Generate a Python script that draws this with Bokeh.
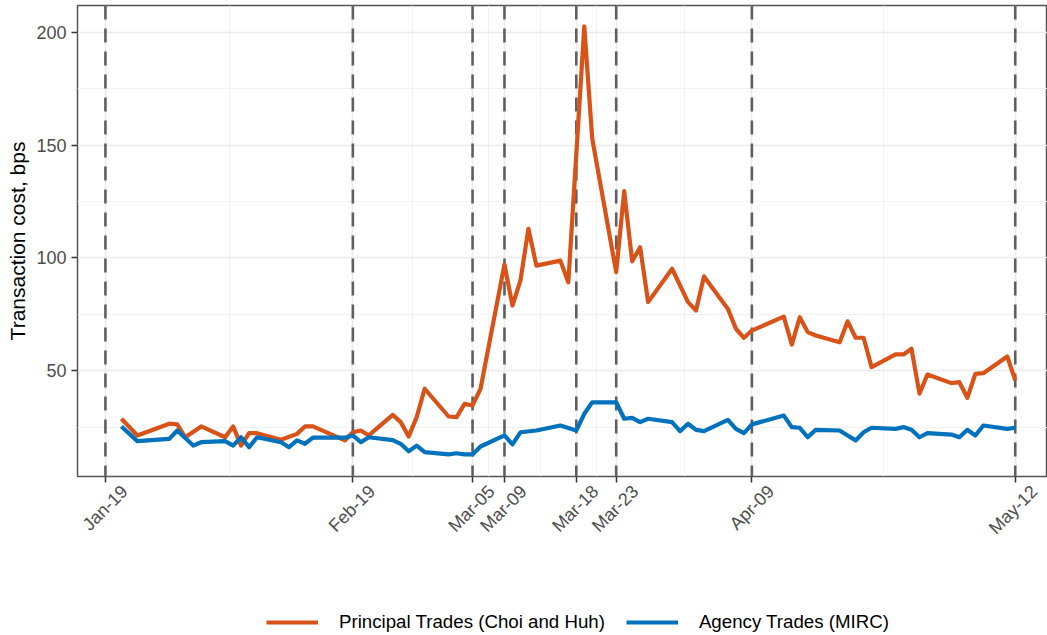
import math
import pandas as pd
from bokeh.plotting import figure
from bokeh.layouts import column
from bokeh.models import (Range1d, FixedTicker, DatetimeTickFormatter, Legend, LegendItem, Span,
                          DatetimeAxis)
from bokeh.embed import file_html
from bokeh.resources import INLINE

principal_dates = ["2020-01-21", "2020-01-23", "2020-01-27", "2020-01-28", "2020-01-29", "2020-01-31",
                   "2020-02-03", "2020-02-04", "2020-02-05", "2020-02-06", "2020-02-07", "2020-02-10",
                   "2020-02-12", "2020-02-13", "2020-02-14", "2020-02-18", "2020-02-19", "2020-02-20",
                   "2020-02-21", "2020-02-24", "2020-02-25", "2020-02-26", "2020-02-27", "2020-02-28",
                   "2020-03-02", "2020-03-03", "2020-03-04", "2020-03-05", "2020-03-06", "2020-03-09",
                   "2020-03-10", "2020-03-11", "2020-03-12", "2020-03-13", "2020-03-16", "2020-03-17",
                   "2020-03-19", "2020-03-20", "2020-03-23", "2020-03-24", "2020-03-25", "2020-03-26",
                   "2020-03-27", "2020-03-30", "2020-04-01", "2020-04-02", "2020-04-03", "2020-04-06",
                   "2020-04-07", "2020-04-08", "2020-04-09", "2020-04-13", "2020-04-14", "2020-04-15",
                   "2020-04-16", "2020-04-17", "2020-04-20", "2020-04-21", "2020-04-22", "2020-04-23",
                   "2020-04-24", "2020-04-27", "2020-04-28", "2020-04-29", "2020-04-30", "2020-05-01",
                   "2020-05-04", "2020-05-05", "2020-05-06", "2020-05-07", "2020-05-08", "2020-05-11",
                   "2020-05-12"]
principal_cost = [28.7, 21.3, 26.5, 26.2, 20.5, 25.3,
                  20.5, 25.3, 16.8, 22.3, 22.3, 19.4,
                  22.0, 25.3, 25.3, 19.1, 22.7, 23.5,
                  21.3, 30.4, 27.2, 20.8, 29.4, 42.0,
                  29.7, 29.4, 35.3, 34.6, 42.0, 97.1,
                  78.9, 90.0, 112.9, 96.6, 98.8, 89.2,
                  202.6, 152.8, 93.7, 129.6, 98.5, 104.7,
                  80.4, 95.2, 80.4, 76.7, 91.8, 77.4,
                  68.6, 64.6, 67.8, 74.0, 61.6, 73.7,
                  67.1, 65.6, 62.6, 71.9, 64.6, 64.6,
                  51.6, 57.2, 57.2, 59.7, 39.8, 48.3,
                  44.5, 44.9, 38.0, 48.6, 48.9, 56.3,
                  45.7]

agency_dates = ["2020-01-21", "2020-01-23", "2020-01-27", "2020-01-28", "2020-01-30", "2020-01-31",
                "2020-02-03", "2020-02-04", "2020-02-05", "2020-02-06", "2020-02-07", "2020-02-10",
                "2020-02-11", "2020-02-12", "2020-02-13", "2020-02-14", "2020-02-18", "2020-02-19",
                "2020-02-20", "2020-02-21", "2020-02-24", "2020-02-25", "2020-02-26", "2020-02-27",
                "2020-02-28", "2020-03-02", "2020-03-03", "2020-03-04", "2020-03-05", "2020-03-06",
                "2020-03-09", "2020-03-10", "2020-03-11", "2020-03-13", "2020-03-16", "2020-03-18",
                "2020-03-19", "2020-03-20", "2020-03-23", "2020-03-24", "2020-03-25", "2020-03-26",
                "2020-03-27", "2020-03-30", "2020-03-31", "2020-04-01", "2020-04-02", "2020-04-03",
                "2020-04-06", "2020-04-07", "2020-04-08", "2020-04-09", "2020-04-13", "2020-04-14",
                "2020-04-15", "2020-04-16", "2020-04-17", "2020-04-20", "2020-04-21", "2020-04-22",
                "2020-04-23", "2020-04-24", "2020-04-27", "2020-04-28", "2020-04-29", "2020-04-30",
                "2020-05-01", "2020-05-04", "2020-05-05", "2020-05-06", "2020-05-07", "2020-05-08",
                "2020-05-11", "2020-05-12"]
agency_cost = [25.3, 18.8, 19.8, 23.5, 16.8, 18.3,
               18.8, 16.8, 20.5, 16.1, 20.5, 18.3,
               16.1, 19.1, 17.6, 20.3, 20.3, 21.3,
               18.3, 20.5, 19.2, 17.6, 14.3, 16.8,
               13.9, 12.9, 13.4, 12.9, 12.9, 16.4,
               21.3, 17.3, 22.7, 23.5, 25.7, 23.5,
               30.9, 36.0, 36.0, 28.7, 29.1, 27.2,
               28.7, 27.2, 23.2, 26.5, 23.8, 23.2,
               28.2, 24.2, 22.3, 26.2, 30.1, 25.0,
               24.7, 20.5, 23.8, 23.5, 21.3, 19.1,
               22.7, 24.7, 24.2, 25.0, 23.8, 20.5,
               22.3, 21.7, 20.5, 23.8, 21.3, 25.7,
               24.2, 24.7]

event_dates = ["2020-01-19", "2020-02-19", "2020-03-05", "2020-03-09",
               "2020-03-18", "2020-03-23", "2020-04-09", "2020-05-12"]
y_ticks = [50, 100, 150, 200]
y_minor_ticks = [25, 75, 125, 175]
x_limits = ["2020-01-15 12:00", "2020-05-16 01:00"]
y_limits = [3.1, 211.9]

series_names = ["Principal Trades (Choi and Huh)", "Agency Trades (MIRC)"]
series_colors = ["#D95319", "#0072BD"]


def to_ms(ts):
    return (pd.Timestamp(ts) - pd.Timestamp("1970-01-01")) / pd.Timedelta(milliseconds=1)


event_ms = [to_ms(d) for d in event_dates]
minor_ms = [(a + b) / 2 for a, b in zip(event_ms[:-1], event_ms[1:])]
x0, x1 = to_ms(x_limits[0]), to_ms(x_limits[1])

FONT = "Liberation Sans"
MAIN_H = 604

p = figure(width=1047, height=MAIN_H, x_axis_type="datetime",
           output_backend="svg", toolbar_location=None,
           x_range=Range1d(x0, x1), y_range=Range1d(y_limits[0], y_limits[1]),
           min_border_left=77, min_border_right=0, min_border_top=5,
           min_border_bottom=MAIN_H - 476)

p.background_fill_color = "white"
p.border_fill_color = "white"
p.outline_line_color = "#555555"
p.outline_line_width = 1.5

# grids
p.xaxis.ticker = FixedTicker(ticks=event_ms, minor_ticks=minor_ms)
p.yaxis.ticker = FixedTicker(ticks=y_ticks, minor_ticks=y_minor_ticks)
for g in (p.xgrid, p.ygrid):
    g.grid_line_color = "#EBEBEB"
    g.grid_line_width = 1.6
    g.minor_grid_line_color = "#F2F2F2"
    g.minor_grid_line_width = 1.0

fmt = "%b-%d"
date_fmt = dict(days=fmt, months=fmt, years=fmt, hours=fmt, hourmin=fmt, minutes=fmt,
                minsec=fmt, seconds=fmt, milliseconds=fmt, microseconds=fmt)

for ax in (p.xaxis, p.yaxis):
    ax.axis_line_color = None
    ax.major_tick_line_color = "#333333"
    ax.major_tick_line_width = 1.5
    ax.major_tick_out = 6
    ax.major_tick_in = 0
    ax.minor_tick_line_color = None
    ax.major_label_text_font = FONT
    ax.major_label_text_font_size = "18px"
    ax.major_label_text_color = "#4D4D4D"
    ax.axis_label_text_font = FONT
    ax.axis_label_text_font_style = "normal"
    ax.axis_label_text_color = "black"

# main x axis: ticks only (labels drawn by the shifted axis below)
p.xaxis.formatter = DatetimeTickFormatter(**date_fmt)
p.xaxis.major_label_overrides = {ms: "" for ms in event_ms}
p.xaxis.major_label_standoff = 0

# label axis, shifted so that rotated labels sit centred under their ticks
shift_ms = 2.4 * 86400000
p.extra_x_ranges = {"labels": Range1d(x0 - shift_ms, x1 - shift_ms)}
lab_axis = DatetimeAxis(x_range_name="labels", ticker=FixedTicker(ticks=event_ms, minor_ticks=[]),
                        formatter=DatetimeTickFormatter(**date_fmt))
lab_axis.axis_line_color = None
lab_axis.major_tick_line_color = None
lab_axis.minor_tick_line_color = None
lab_axis.major_tick_out = 0
lab_axis.major_tick_in = 0
lab_axis.major_label_orientation = math.pi / 4
lab_axis.major_label_standoff = 6
lab_axis.major_label_text_font = FONT
lab_axis.major_label_text_font_size = "18px"
lab_axis.major_label_text_color = "#4D4D4D"
p.add_layout(lab_axis, "below")

p.yaxis.major_label_standoff = 5
p.yaxis.axis_label = "Transaction cost, bps"
p.yaxis.axis_label_text_font_size = "21px"
p.yaxis.axis_label_standoff = 4

# event lines
for ms in event_ms:
    p.add_layout(Span(location=ms, dimension="height", line_color="#5f5f5f",
                      line_width=2.6, line_dash="14 9", level="underlay"))

p.line(pd.to_datetime(principal_dates), principal_cost, line_color=series_colors[0],
       line_width=4.2, line_join="round")
p.line(pd.to_datetime(agency_dates), agency_cost, line_color=series_colors[1],
       line_width=4.2, line_join="round")

# legend strip below the chart (series drawn again here only as legend keys, out of view)
leg_fig = figure(width=1047, height=635 - MAIN_H, x_axis_type="datetime",
                 output_backend="svg", toolbar_location=None,
                 x_range=Range1d(x0, x1), y_range=Range1d(1000, 1001),
                 min_border_left=77, min_border_right=0, min_border_top=0, min_border_bottom=0)
leg_fig.axis.visible = False
leg_fig.grid.visible = False
leg_fig.outline_line_color = None
leg_fig.background_fill_color = "white"
leg_fig.border_fill_color = "white"
k1 = leg_fig.line(pd.to_datetime(principal_dates), principal_cost, line_color=series_colors[0],
                  line_width=4.2)
k2 = leg_fig.line(pd.to_datetime(agency_dates), agency_cost, line_color=series_colors[1],
                  line_width=4.2)
legend = Legend(items=[LegendItem(label=series_names[0], renderers=[k1]),
                       LegendItem(label=series_names[1], renderers=[k2])],
                orientation="horizontal", location=(266 - 77, 2),
                glyph_width=52, glyph_height=22, label_standoff=21, spacing=21,
                padding=0, margin=0, background_fill_alpha=0, border_line_color=None,
                label_text_font=FONT, label_text_font_size="18.7px", label_text_color="black")
leg_fig.add_layout(legend, "center")

layout = column(p, leg_fig, spacing=0)
open("out.html", "w").write(file_html(layout, INLINE))
